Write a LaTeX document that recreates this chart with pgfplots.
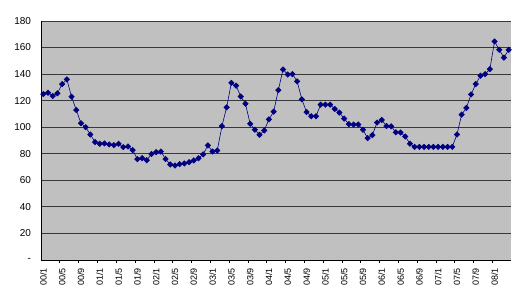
\documentclass[border=0pt]{standalone}
\usepackage{fontspec}
\setmainfont{Liberation Sans}
\usepackage{pgfplots}
\pgfplotsset{compat=1.18}
\definecolor{bgray}{HTML}{C0C0C0}
\definecolor{navyline}{HTML}{000080}
\begin{document}
\begin{tikzpicture}
\path (-41pt,-44pt) rectangle (479pt,260pt);
\begin{axis}[
  at={(0pt,0pt)}, anchor=south west,
  scale only axis, width=470pt, height=239pt,
  xmin=-0.5, xmax=99.5, ymin=0, ymax=180,
  axis lines*=left,
  axis line style={black, line width=0.8pt},
  axis background/.style={fill=bgray},
  ymajorgrids, grid style={black!78, line width=0.8pt},
  ytick={0,20,...,180},
  yticklabels={-,20,40,60,80,100,120,140,160,180},
  xtick={0,4,...,96},
  xticklabels={00/1,00/5,00/9,01/1,01/5,01/9,02/1,02/5,02/9,03/1,03/5,03/9,04/1,04/5,04/9,05/1,05/5,05/9,06/1,06/5,06/9,07/1,07/5,07/9,08/1},
  minor xtick={3.5,7.5,...,95.5},
  tick align=outside,
  major tick length=0pt, minor tick length=3.5pt,
  minor x tick style={black, line width=0.6pt},
  yticklabel style={font=\fontsize{10}{11}\selectfont, anchor=east},
  yticklabel shift={6.5pt},
  xticklabel style={font=\fontsize{9}{10}\selectfont, rotate=90, anchor=east},
  xticklabel shift={4.5pt},
  clip=false,
]
\addplot[navyline, line width=0.6pt, mark=square*, mark size=1.9pt,
  mark options={rotate=45, fill=navyline, draw=navyline}] coordinates {
(0,125) (1,126) (2,123.5) (3,125.5) (4,132.5) (5,136) (6,123) (7,113) (8,103) (9,100)
(10,94.5) (11,88.8) (12,87.5) (13,87.8) (14,87) (15,86.5) (16,87.5) (17,85) (18,85.5) (19,82.8)
(20,76) (21,76.7) (22,75.2) (23,79.8) (24,81.2) (25,81.7) (26,76) (27,72) (28,71.2) (29,72.2)
(30,72.7) (31,73.7) (32,75) (33,76.6) (34,79.5) (35,86.3) (36,81.7) (37,82.5) (38,100.8) (39,115)
(40,133.4) (41,131.3) (42,123.2) (43,117.7) (44,102.6) (45,98.1) (46,94.3) (47,97.6) (48,105.9) (49,111.7)
(50,128) (51,143.5) (52,139.7) (53,140) (54,134.5) (55,121) (56,111.4) (57,108.3) (58,108.3) (59,117)
(60,117) (61,117) (62,113.8) (63,111) (64,106.5) (65,102.3) (66,102) (67,102) (68,98.1) (69,91.8)
(70,94.1) (71,103.5) (72,105.5) (73,100.9) (74,100.7) (75,96.2) (76,96) (77,93) (78,87.6) (79,85.2)
(80,85.2) (81,85.2) (82,85.2) (83,85.2) (84,85.2) (85,85.2) (86,85.2) (87,85.2) (88,94.5) (89,109.5)
(90,114.5) (91,124.7) (92,132.5) (93,138.8) (94,140) (95,143.7) (96,164.6) (97,158.3) (98,152.4) (99,158.3)
};
\end{axis}
\end{tikzpicture}
\end{document}
